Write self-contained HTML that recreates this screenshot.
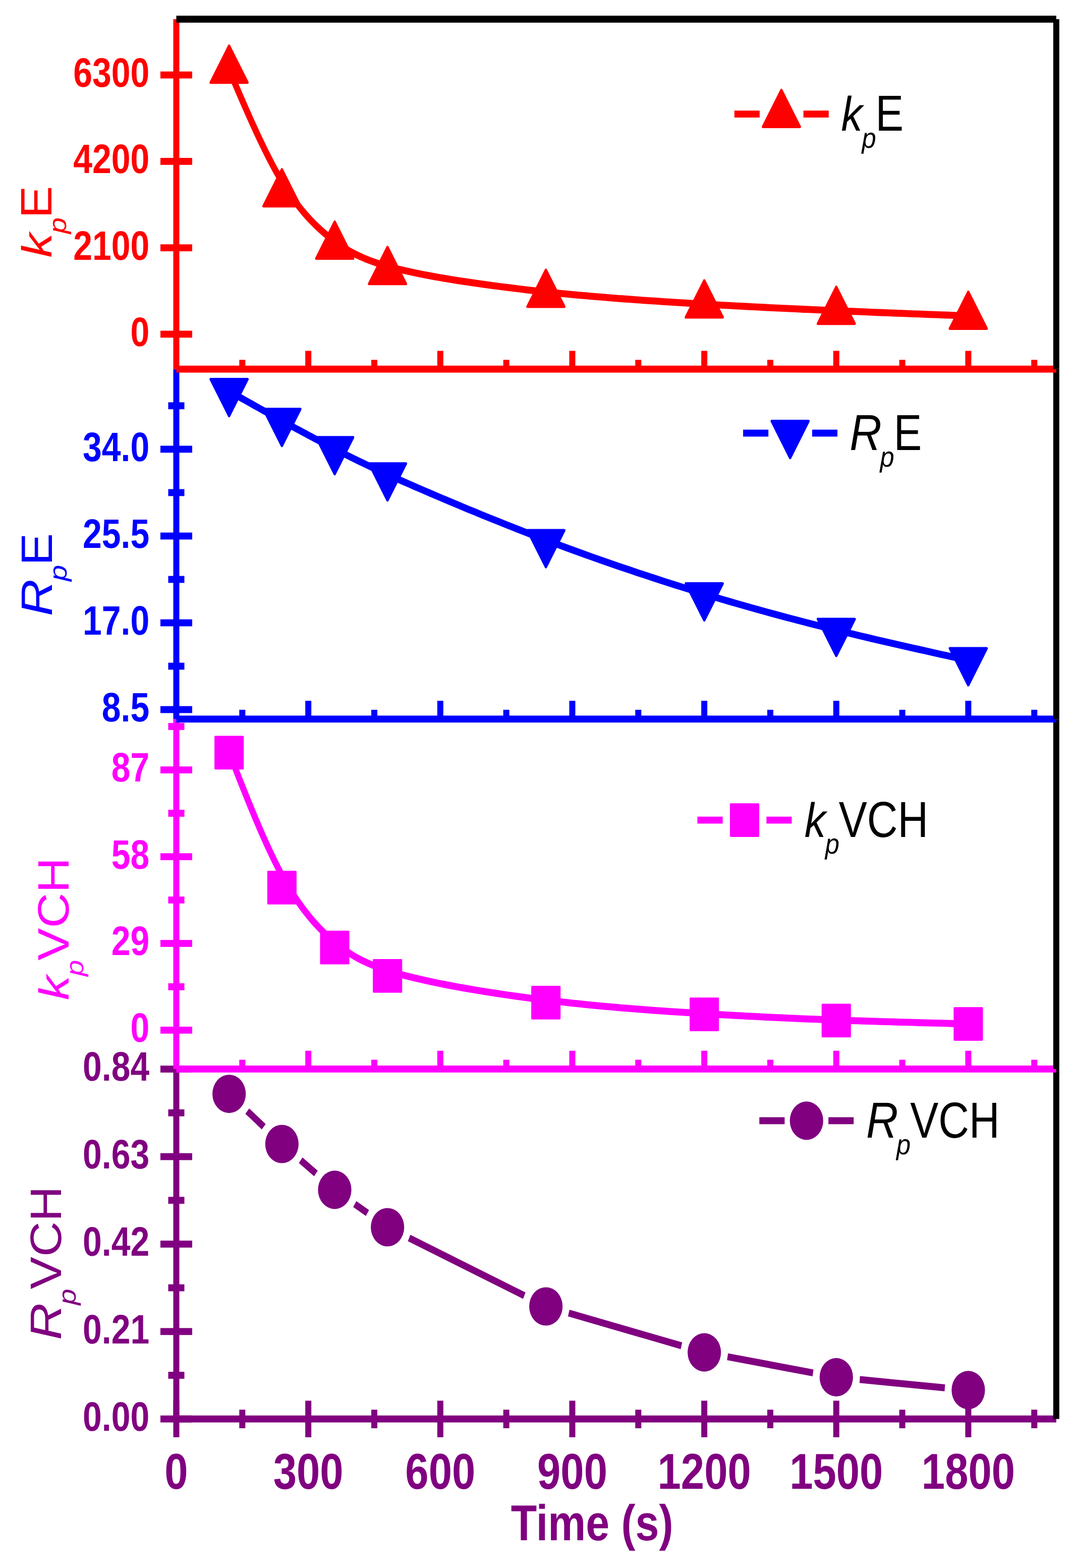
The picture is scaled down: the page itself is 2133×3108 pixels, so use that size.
<!DOCTYPE html>
<html lang="en"><head><meta charset="utf-8"><title>Time dependence of kpE, RpE, kpVCH and RpVCH</title>
<style>html,body{margin:0;padding:0;background:#fff}body{width:2133px;height:3108px}svg{display:block}text{font-family:"Liberation Sans",Arial,Helvetica,sans-serif;text-rendering:geometricPrecision}.tk{font-weight:bold;font-size:67.9px;text-anchor:end}.xt{font-weight:bold;font-size:83.3px;text-anchor:middle}.lb{font-size:83.3px}.sub{font-size:50.8px;font-style:italic}.it{font-size:83.3px;font-style:italic}</style></head><body>
<svg width="2133" height="3108" viewBox="0 0 2133 3108" role="img" aria-label="Time dependence of kpE, RpE, kpVCH and RpVCH">
<rect width="2133" height="3108" fill="#fff"/>
<g transform="scale(1,1.15)">
<g id="panel4">
<rect x="343.5" y="1842.57" width="12" height="603.17" fill="#800080"/>
<rect x="318" y="1836.7" width="63" height="12" fill="#800080"/>
<rect x="318" y="1987.57" width="63" height="12" fill="#800080"/>
<rect x="318" y="2138.35" width="63" height="12" fill="#800080"/>
<rect x="318" y="2289.04" width="63" height="12" fill="#800080"/>
<rect x="318" y="2439.74" width="63" height="12" fill="#800080"/>
<rect x="333.5" y="1912.09" width="32" height="12" fill="#800080"/>
<rect x="333.5" y="2062.87" width="32" height="12" fill="#800080"/>
<rect x="333.5" y="2213.65" width="32" height="12" fill="#800080"/>
<rect x="333.5" y="2364.43" width="32" height="12" fill="#800080"/>
<rect x="343.5" y="2414.24" width="12" height="63" fill="#800080"/>
<rect x="474.33" y="2429.74" width="12" height="32" fill="#800080"/>
<rect x="605.16" y="2414.24" width="12" height="63" fill="#800080"/>
<rect x="735.99" y="2429.74" width="12" height="32" fill="#800080"/>
<rect x="866.82" y="2414.24" width="12" height="63" fill="#800080"/>
<rect x="997.65" y="2429.74" width="12" height="32" fill="#800080"/>
<rect x="1128.48" y="2414.24" width="12" height="63" fill="#800080"/>
<rect x="1259.31" y="2429.74" width="12" height="32" fill="#800080"/>
<rect x="1390.14" y="2414.24" width="12" height="63" fill="#800080"/>
<rect x="1520.97" y="2429.74" width="12" height="32" fill="#800080"/>
<rect x="1651.8" y="2414.24" width="12" height="63" fill="#800080"/>
<rect x="1782.63" y="2429.74" width="12" height="32" fill="#800080"/>
<rect x="1913.46" y="2414.24" width="12" height="63" fill="#800080"/>
<rect x="2044.29" y="2429.74" width="12" height="32" fill="#800080"/>
<rect x="349.5" y="2439.74" width="1744.4" height="12" fill="#800080"/>
<rect x="2087.9" y="1842.57" width="12" height="603.17" fill="#000000"/>
</g>
<g id="panel3">
<rect x="343.5" y="1239.39" width="12" height="603.17" fill="#ff00ff"/>
<rect x="318" y="1321.04" width="63" height="12" fill="#ff00ff"/>
<rect x="318" y="1470.61" width="63" height="12" fill="#ff00ff"/>
<rect x="318" y="1620.09" width="63" height="12" fill="#ff00ff"/>
<rect x="318" y="1769.57" width="63" height="12" fill="#ff00ff"/>
<rect x="333.5" y="1246.17" width="32" height="12" fill="#ff00ff"/>
<rect x="333.5" y="1395.74" width="32" height="12" fill="#ff00ff"/>
<rect x="333.5" y="1545.22" width="32" height="12" fill="#ff00ff"/>
<rect x="333.5" y="1694.78" width="32" height="12" fill="#ff00ff"/>
<rect x="474.33" y="1826.57" width="12" height="16" fill="#ff00ff"/>
<rect x="605.16" y="1811.07" width="12" height="31.5" fill="#ff00ff"/>
<rect x="735.99" y="1826.57" width="12" height="16" fill="#ff00ff"/>
<rect x="866.82" y="1811.07" width="12" height="31.5" fill="#ff00ff"/>
<rect x="997.65" y="1826.57" width="12" height="16" fill="#ff00ff"/>
<rect x="1128.48" y="1811.07" width="12" height="31.5" fill="#ff00ff"/>
<rect x="1259.31" y="1826.57" width="12" height="16" fill="#ff00ff"/>
<rect x="1390.14" y="1811.07" width="12" height="31.5" fill="#ff00ff"/>
<rect x="1520.97" y="1826.57" width="12" height="16" fill="#ff00ff"/>
<rect x="1651.8" y="1811.07" width="12" height="31.5" fill="#ff00ff"/>
<rect x="1782.63" y="1826.57" width="12" height="16" fill="#ff00ff"/>
<rect x="1913.46" y="1811.07" width="12" height="31.5" fill="#ff00ff"/>
<rect x="2044.29" y="1826.57" width="12" height="16" fill="#ff00ff"/>
<rect x="349.5" y="1836.57" width="1744.4" height="12" fill="#ff00ff"/>
<rect x="2087.9" y="1239.39" width="12" height="603.17" fill="#000000"/>
</g>
<g id="panel2">
<rect x="343.5" y="636.22" width="12" height="603.17" fill="#0000ff"/>
<rect x="318" y="768.26" width="63" height="12" fill="#0000ff"/>
<rect x="318" y="917.91" width="63" height="12" fill="#0000ff"/>
<rect x="318" y="1067.48" width="63" height="12" fill="#0000ff"/>
<rect x="318" y="1217.04" width="63" height="12" fill="#0000ff"/>
<rect x="333.5" y="693.39" width="32" height="12" fill="#0000ff"/>
<rect x="333.5" y="843.04" width="32" height="12" fill="#0000ff"/>
<rect x="333.5" y="992.7" width="32" height="12" fill="#0000ff"/>
<rect x="333.5" y="1142.26" width="32" height="12" fill="#0000ff"/>
<rect x="474.33" y="1223.39" width="12" height="16" fill="#0000ff"/>
<rect x="605.16" y="1207.89" width="12" height="31.5" fill="#0000ff"/>
<rect x="735.99" y="1223.39" width="12" height="16" fill="#0000ff"/>
<rect x="866.82" y="1207.89" width="12" height="31.5" fill="#0000ff"/>
<rect x="997.65" y="1223.39" width="12" height="16" fill="#0000ff"/>
<rect x="1128.48" y="1207.89" width="12" height="31.5" fill="#0000ff"/>
<rect x="1259.31" y="1223.39" width="12" height="16" fill="#0000ff"/>
<rect x="1390.14" y="1207.89" width="12" height="31.5" fill="#0000ff"/>
<rect x="1520.97" y="1223.39" width="12" height="16" fill="#0000ff"/>
<rect x="1651.8" y="1207.89" width="12" height="31.5" fill="#0000ff"/>
<rect x="1782.63" y="1223.39" width="12" height="16" fill="#0000ff"/>
<rect x="1913.46" y="1207.89" width="12" height="31.5" fill="#0000ff"/>
<rect x="2044.29" y="1223.39" width="12" height="16" fill="#0000ff"/>
<rect x="349.5" y="1233.39" width="1744.4" height="12" fill="#0000ff"/>
<rect x="2087.9" y="636.22" width="12" height="603.17" fill="#000000"/>
</g>
<g id="panel1">
<rect x="343.5" y="33.04" width="12" height="603.17" fill="#ff0000"/>
<rect x="318" y="123.22" width="63" height="12" fill="#ff0000"/>
<rect x="318" y="272.17" width="63" height="12" fill="#ff0000"/>
<rect x="318" y="421.13" width="63" height="12" fill="#ff0000"/>
<rect x="318" y="570" width="63" height="12" fill="#ff0000"/>
<rect x="474.33" y="620.22" width="12" height="16" fill="#ff0000"/>
<rect x="605.16" y="604.72" width="12" height="31.5" fill="#ff0000"/>
<rect x="735.99" y="620.22" width="12" height="16" fill="#ff0000"/>
<rect x="866.82" y="604.72" width="12" height="31.5" fill="#ff0000"/>
<rect x="997.65" y="620.22" width="12" height="16" fill="#ff0000"/>
<rect x="1128.48" y="604.72" width="12" height="31.5" fill="#ff0000"/>
<rect x="1259.31" y="620.22" width="12" height="16" fill="#ff0000"/>
<rect x="1390.14" y="604.72" width="12" height="31.5" fill="#ff0000"/>
<rect x="1520.97" y="620.22" width="12" height="16" fill="#ff0000"/>
<rect x="1651.8" y="604.72" width="12" height="31.5" fill="#ff0000"/>
<rect x="1782.63" y="620.22" width="12" height="16" fill="#ff0000"/>
<rect x="1913.46" y="604.72" width="12" height="31.5" fill="#ff0000"/>
<rect x="2044.29" y="620.22" width="12" height="16" fill="#ff0000"/>
<rect x="349.5" y="630.22" width="1744.4" height="12" fill="#ff0000"/>
<rect x="2087.9" y="33.04" width="12" height="603.17" fill="#000000"/>
<rect x="349.5" y="27.04" width="1744.4" height="12" fill="#000000"/>
</g>
<g id="series1">
<path d="M454.16 120.39 L458.52 129.26 L462.89 138.13 L467.25 146.98 L471.61 155.8 L475.97 164.58 L480.33 173.32 L484.69 182.01 L489.05 190.63 L493.41 199.19 L497.77 207.66 L502.13 216.05 L506.5 224.34 L510.86 232.52 L515.22 240.58 L519.58 248.52 L523.94 256.33 L528.3 264 L532.66 271.51 L537.02 278.87 L541.38 286.06 L545.75 293.07 L550.11 299.89 L554.47 306.52 L558.83 312.94 L563.19 319.16 L567.55 325.16 L571.91 330.96 L576.27 336.57 L580.63 341.99 L584.99 347.22 L589.36 352.27 L593.72 357.15 L598.08 361.85 L602.44 366.4 L606.8 370.78 L611.16 375.02 L615.52 379.1 L619.88 383.05 L624.24 386.85 L628.6 390.53 L632.96 394.09 L637.33 397.52 L641.69 400.84 L646.05 404.05 L650.41 407.16 L654.77 410.17 L659.13 413.09 L663.49 415.92 L667.86 418.67 L672.23 421.34 L676.64 423.94 L681.1 426.47 L685.61 428.93 L690.2 431.32 L694.88 433.65 L699.67 435.92 L704.58 438.13 L709.63 440.29 L714.82 442.4 L720.19 444.46 L725.73 446.48 L731.47 448.45 L737.42 450.39 L743.61 452.29 L750.03 454.16 L756.71 456 L763.66 457.82 L770.9 459.61 L778.45 461.39 L786.31 463.14 L794.5 464.88 L803.04 466.62 L811.95 468.34 L821.19 470.05 L830.78 471.76 L840.68 473.45 L850.88 475.13 L861.37 476.8 L872.14 478.45 L883.16 480.09 L894.42 481.71 L905.91 483.31 L917.61 484.89 L929.51 486.45 L941.59 487.99 L953.84 489.51 L966.24 491 L978.78 492.46 L991.43 493.9 L1004.2 495.31 L1017.05 496.7 L1029.98 498.05 L1042.97 499.37 L1056 500.66 L1069.07 501.91 L1082.15 503.13 L1095.23 504.31 L1108.31 505.46 L1121.38 506.58 L1134.44 507.66 L1147.48 508.7 L1160.51 509.72 L1173.51 510.71 L1186.49 511.66 L1199.44 512.59 L1212.35 513.49 L1225.22 514.37 L1238.05 515.21 L1250.84 516.04 L1263.58 516.84 L1276.26 517.62 L1288.89 518.37 L1301.46 519.11 L1313.96 519.83 L1326.4 520.52 L1338.76 521.2 L1351.05 521.86 L1363.26 522.51 L1375.38 523.14 L1387.42 523.76 L1399.37 524.37 L1411.23 524.96 L1423 525.54 L1434.7 526.11 L1446.32 526.66 L1457.88 527.21 L1469.36 527.75 L1480.78 528.27 L1492.13 528.78 L1503.43 529.29 L1514.68 529.79 L1525.88 530.27 L1537.03 530.75 L1548.14 531.22 L1559.22 531.68 L1570.26 532.14 L1581.27 532.59 L1592.25 533.03 L1603.21 533.46 L1614.15 533.89 L1625.08 534.31 L1635.99 534.73 L1646.9 535.14 L1657.8 535.55 L1668.7 535.95 L1679.61 536.35 L1690.51 536.75 L1701.41 537.14 L1712.31 537.53 L1723.22 537.92 L1734.12 538.3 L1745.02 538.68 L1755.92 539.05 L1766.83 539.43 L1777.73 539.8 L1788.63 540.17 L1799.53 540.53 L1810.44 540.9 L1821.34 541.26 L1832.24 541.62 L1843.14 541.98 L1854.05 542.34 L1864.95 542.7 L1875.85 543.06 L1886.75 543.41 L1897.66 543.77 L1908.56 544.12 L1919.46 544.48" fill="none" stroke="#ff0000" stroke-width="12" stroke-linejoin="round"/>
<polygon points="454.16,78.99 490.71,142.29 417.61,142.29" fill="#ff0000" stroke="#ff0000" stroke-width="4.6" stroke-linejoin="round"/>
<polygon points="558.83,291.99 595.38,355.29 522.28,355.29" fill="#ff0000" stroke="#ff0000" stroke-width="4.6" stroke-linejoin="round"/>
<polygon points="663.49,382.29 700.04,445.6 626.94,445.6" fill="#ff0000" stroke="#ff0000" stroke-width="4.6" stroke-linejoin="round"/>
<polygon points="768.16,425.94 804.71,489.25 731.61,489.25" fill="#ff0000" stroke="#ff0000" stroke-width="4.6" stroke-linejoin="round"/>
<polygon points="1082.15,465.2 1118.7,528.51 1045.6,528.51" fill="#ff0000" stroke="#ff0000" stroke-width="4.6" stroke-linejoin="round"/>
<polygon points="1396.14,483.6 1432.69,546.9 1359.59,546.9" fill="#ff0000" stroke="#ff0000" stroke-width="4.6" stroke-linejoin="round"/>
<polygon points="1657.8,494.55 1694.35,557.86 1621.25,557.86" fill="#ff0000" stroke="#ff0000" stroke-width="4.6" stroke-linejoin="round"/>
<polygon points="1919.46,503.07 1956.01,566.38 1882.91,566.38" fill="#ff0000" stroke="#ff0000" stroke-width="4.6" stroke-linejoin="round"/>
</g>
<g id="series2">
<path d="M454.16 674.26 L458.52 676.41 L462.89 678.55 L467.25 680.69 L471.61 682.84 L475.97 684.98 L480.33 687.12 L484.69 689.26 L489.05 691.4 L493.41 693.54 L497.77 695.68 L502.13 697.81 L506.5 699.94 L510.86 702.07 L515.22 704.2 L519.58 706.32 L523.94 708.44 L528.3 710.56 L532.66 712.67 L537.02 714.78 L541.38 716.89 L545.75 718.99 L550.11 721.09 L554.47 723.19 L558.83 725.28 L563.19 727.36 L567.55 729.44 L571.91 731.51 L576.27 733.58 L580.63 735.65 L584.99 737.71 L589.36 739.76 L593.72 741.81 L598.08 743.86 L602.44 745.89 L606.8 747.93 L611.16 749.96 L615.52 751.98 L619.88 754 L624.24 756.01 L628.6 758.01 L632.96 760.01 L637.33 762.01 L641.69 764 L646.05 765.98 L650.41 767.96 L654.77 769.93 L659.13 771.9 L663.49 773.86 L667.86 775.81 L672.23 777.76 L676.64 779.72 L681.1 781.69 L685.61 783.67 L690.2 785.68 L694.88 787.71 L699.67 789.77 L704.58 791.86 L709.63 794 L714.82 796.19 L720.19 798.43 L725.73 800.72 L731.47 803.08 L737.42 805.51 L743.61 808.01 L750.03 810.59 L756.71 813.25 L763.66 816 L770.9 818.85 L778.45 821.8 L786.31 824.85 L794.5 828.02 L803.04 831.3 L811.95 834.7 L821.19 838.21 L830.78 841.83 L840.68 845.55 L850.88 849.37 L861.37 853.28 L872.14 857.26 L883.16 861.32 L894.42 865.45 L905.91 869.64 L917.61 873.88 L929.51 878.16 L941.59 882.49 L953.84 886.86 L966.24 891.25 L978.78 895.66 L991.43 900.08 L1004.2 904.51 L1017.05 908.94 L1029.98 913.36 L1042.97 917.77 L1056 922.16 L1069.07 926.52 L1082.15 930.85 L1095.23 935.14 L1108.31 939.38 L1121.38 943.59 L1134.44 947.75 L1147.48 951.87 L1160.51 955.95 L1173.51 959.99 L1186.49 963.98 L1199.44 967.92 L1212.35 971.82 L1225.22 975.68 L1238.05 979.49 L1250.84 983.25 L1263.58 986.97 L1276.26 990.63 L1288.89 994.25 L1301.46 997.82 L1313.96 1001.35 L1326.4 1004.82 L1338.76 1008.24 L1351.05 1011.61 L1363.26 1014.93 L1375.38 1018.2 L1387.42 1021.41 L1399.37 1024.58 L1411.23 1027.69 L1423 1030.75 L1434.7 1033.76 L1446.32 1036.73 L1457.88 1039.65 L1469.36 1042.53 L1480.78 1045.36 L1492.13 1048.15 L1503.43 1050.9 L1514.68 1053.62 L1525.88 1056.29 L1537.03 1058.93 L1548.14 1061.54 L1559.22 1064.11 L1570.26 1066.65 L1581.27 1069.16 L1592.25 1071.64 L1603.21 1074.1 L1614.15 1076.53 L1625.08 1078.93 L1635.99 1081.31 L1646.9 1083.67 L1657.8 1086.01 L1668.7 1088.33 L1679.61 1090.63 L1690.51 1092.91 L1701.41 1095.18 L1712.31 1097.43 L1723.22 1099.67 L1734.12 1101.89 L1745.02 1104.1 L1755.92 1106.3 L1766.83 1108.48 L1777.73 1110.65 L1788.63 1112.82 L1799.53 1114.97 L1810.44 1117.11 L1821.34 1119.25 L1832.24 1121.38 L1843.14 1123.51 L1854.05 1125.62 L1864.95 1127.74 L1875.85 1129.85 L1886.75 1131.95 L1897.66 1134.06 L1908.56 1136.16 L1919.46 1138.26" fill="none" stroke="#0000ff" stroke-width="12" stroke-linejoin="round"/>
<polygon points="454.16,716.92 490.71,653.61 417.61,653.61" fill="#0000ff" stroke="#0000ff" stroke-width="4.6" stroke-linejoin="round"/>
<polygon points="558.83,768.39 595.38,705.09 522.28,705.09" fill="#0000ff" stroke="#0000ff" stroke-width="4.6" stroke-linejoin="round"/>
<polygon points="663.49,817.09 700.04,753.78 626.94,753.78" fill="#0000ff" stroke="#0000ff" stroke-width="4.6" stroke-linejoin="round"/>
<polygon points="768.16,862.31 804.71,799 731.61,799" fill="#0000ff" stroke="#0000ff" stroke-width="4.6" stroke-linejoin="round"/>
<polygon points="1082.15,977.39 1118.7,914.09 1045.6,914.09" fill="#0000ff" stroke="#0000ff" stroke-width="4.6" stroke-linejoin="round"/>
<polygon points="1396.14,1069.13 1432.69,1005.83 1359.59,1005.83" fill="#0000ff" stroke="#0000ff" stroke-width="4.6" stroke-linejoin="round"/>
<polygon points="1657.8,1130.48 1694.35,1067.17 1621.25,1067.17" fill="#0000ff" stroke="#0000ff" stroke-width="4.6" stroke-linejoin="round"/>
<polygon points="1919.46,1180.92 1956.01,1117.61 1882.91,1117.61" fill="#0000ff" stroke="#0000ff" stroke-width="4.6" stroke-linejoin="round"/>
</g>
<g id="series3">
<path d="M454.16 1297.22 L458.52 1306.91 L462.89 1316.6 L467.25 1326.26 L471.61 1335.9 L475.97 1345.5 L480.33 1355.05 L484.69 1364.55 L489.05 1373.98 L493.41 1383.34 L497.77 1392.61 L502.13 1401.79 L506.5 1410.87 L510.86 1419.83 L515.22 1428.67 L519.58 1437.39 L523.94 1445.96 L528.3 1454.38 L532.66 1462.64 L537.02 1470.73 L541.38 1478.65 L545.75 1486.37 L550.11 1493.91 L554.47 1501.23 L558.83 1508.34 L563.19 1515.23 L567.55 1521.9 L571.91 1528.35 L576.27 1534.6 L580.63 1540.64 L584.99 1546.49 L589.36 1552.14 L593.72 1557.61 L598.08 1562.89 L602.44 1568 L606.8 1572.94 L611.16 1577.71 L615.52 1582.33 L619.88 1586.79 L624.24 1591.1 L628.6 1595.27 L632.96 1599.3 L637.33 1603.19 L641.69 1606.96 L646.05 1610.61 L650.41 1614.15 L654.77 1617.57 L659.13 1620.88 L663.49 1624.1 L667.86 1627.22 L672.23 1630.25 L676.64 1633.2 L681.1 1636.06 L685.61 1638.84 L690.2 1641.55 L694.88 1644.18 L699.67 1646.74 L704.58 1649.25 L709.63 1651.69 L714.82 1654.07 L720.19 1656.4 L725.73 1658.68 L731.47 1660.91 L737.42 1663.1 L743.61 1665.26 L750.03 1667.38 L756.71 1669.47 L763.66 1671.53 L770.9 1673.56 L778.45 1675.58 L786.31 1677.59 L794.5 1679.58 L803.04 1681.56 L811.95 1683.53 L821.19 1685.5 L830.78 1687.47 L840.68 1689.42 L850.88 1691.36 L861.37 1693.29 L872.14 1695.2 L883.16 1697.1 L894.42 1698.98 L905.91 1700.84 L917.61 1702.67 L929.51 1704.49 L941.59 1706.28 L953.84 1708.04 L966.24 1709.78 L978.78 1711.48 L991.43 1713.15 L1004.2 1714.79 L1017.05 1716.4 L1029.98 1717.96 L1042.97 1719.49 L1056 1720.98 L1069.07 1722.43 L1082.15 1723.83 L1095.23 1725.19 L1108.31 1726.51 L1121.38 1727.78 L1134.44 1729.01 L1147.48 1730.2 L1160.51 1731.35 L1173.51 1732.46 L1186.49 1733.54 L1199.44 1734.58 L1212.35 1735.59 L1225.22 1736.56 L1238.05 1737.5 L1250.84 1738.41 L1263.58 1739.29 L1276.26 1740.14 L1288.89 1740.97 L1301.46 1741.76 L1313.96 1742.54 L1326.4 1743.29 L1338.76 1744.01 L1351.05 1744.72 L1363.26 1745.41 L1375.38 1746.07 L1387.42 1746.72 L1399.37 1747.36 L1411.23 1747.97 L1423 1748.58 L1434.7 1749.16 L1446.32 1749.73 L1457.88 1750.29 L1469.36 1750.83 L1480.78 1751.36 L1492.13 1751.87 L1503.43 1752.37 L1514.68 1752.86 L1525.88 1753.33 L1537.03 1753.8 L1548.14 1754.25 L1559.22 1754.69 L1570.26 1755.11 L1581.27 1755.53 L1592.25 1755.94 L1603.21 1756.33 L1614.15 1756.72 L1625.08 1757.09 L1635.99 1757.46 L1646.9 1757.82 L1657.8 1758.17 L1668.7 1758.51 L1679.61 1758.84 L1690.51 1759.17 L1701.41 1759.48 L1712.31 1759.8 L1723.22 1760.1 L1734.12 1760.4 L1745.02 1760.69 L1755.92 1760.98 L1766.83 1761.26 L1777.73 1761.54 L1788.63 1761.81 L1799.53 1762.08 L1810.44 1762.35 L1821.34 1762.61 L1832.24 1762.87 L1843.14 1763.13 L1854.05 1763.38 L1864.95 1763.63 L1875.85 1763.88 L1886.75 1764.13 L1897.66 1764.38 L1908.56 1764.62 L1919.46 1764.87" fill="none" stroke="#ff00ff" stroke-width="12" stroke-linejoin="round"/>
<rect x="426.61" y="1269.67" width="55.1" height="55.1" fill="#ff00ff" stroke="#ff00ff" stroke-width="3" stroke-linejoin="round"/>
<rect x="531.28" y="1502.36" width="55.1" height="55.1" fill="#ff00ff" stroke="#ff00ff" stroke-width="3" stroke-linejoin="round"/>
<rect x="635.94" y="1605.62" width="55.1" height="55.1" fill="#ff00ff" stroke="#ff00ff" stroke-width="3" stroke-linejoin="round"/>
<rect x="740.61" y="1654.45" width="55.1" height="55.1" fill="#ff00ff" stroke="#ff00ff" stroke-width="3" stroke-linejoin="round"/>
<rect x="1054.6" y="1700.62" width="55.1" height="55.1" fill="#ff00ff" stroke="#ff00ff" stroke-width="3" stroke-linejoin="round"/>
<rect x="1368.59" y="1720.75" width="55.1" height="55.1" fill="#ff00ff" stroke="#ff00ff" stroke-width="3" stroke-linejoin="round"/>
<rect x="1630.25" y="1731.41" width="55.1" height="55.1" fill="#ff00ff" stroke="#ff00ff" stroke-width="3" stroke-linejoin="round"/>
<rect x="1891.91" y="1737.32" width="55.1" height="55.1" fill="#ff00ff" stroke="#ff00ff" stroke-width="3" stroke-linejoin="round"/>
</g>
<g id="series4">
<line x1="490.19" y1="1915.11" x2="522.8" y2="1942.02" stroke="#800080" stroke-width="12"/>
<line x1="596.09" y1="1999.88" x2="626.23" y2="2022.64" stroke="#800080" stroke-width="12"/>
<line x1="703.26" y1="2075.27" x2="728.39" y2="2090.73" stroke="#800080" stroke-width="12"/>
<line x1="810.98" y1="2133.84" x2="1039.32" y2="2233.12" stroke="#800080" stroke-width="12"/>
<line x1="1127.43" y1="2263.16" x2="1350.86" y2="2319.53" stroke="#800080" stroke-width="12"/>
<line x1="1442.23" y1="2338.51" x2="1611.71" y2="2366.28" stroke="#800080" stroke-width="12"/>
<line x1="1704.33" y1="2377.77" x2="1872.93" y2="2392.06" stroke="#800080" stroke-width="12"/>
<circle cx="454.16" cy="1885.39" r="33.1" fill="#800080"/>
<circle cx="558.83" cy="1971.74" r="33.1" fill="#800080"/>
<circle cx="663.49" cy="2050.78" r="33.1" fill="#800080"/>
<circle cx="768.16" cy="2115.22" r="33.1" fill="#800080"/>
<circle cx="1082.15" cy="2251.74" r="33.1" fill="#800080"/>
<circle cx="1396.14" cy="2330.96" r="33.1" fill="#800080"/>
<circle cx="1657.8" cy="2373.83" r="33.1" fill="#800080"/>
<circle cx="1919.46" cy="2396" r="33.1" fill="#800080"/>
</g>
<text class="tk" transform="translate(296.2,149.57) scale(1,1.044)" fill="#ff0000">6300</text>
<text class="tk" transform="translate(296.2,298.52) scale(1,1.044)" fill="#ff0000">4200</text>
<text class="tk" transform="translate(296.2,447.48) scale(1,1.044)" fill="#ff0000">2100</text>
<text class="tk" transform="translate(296.2,596.35) scale(1,1.044)" fill="#ff0000">0</text>
<text class="tk" transform="translate(296.2,794.61) scale(1,1.044)" fill="#0000ff">34.0</text>
<text class="tk" transform="translate(296.2,944.26) scale(1,1.044)" fill="#0000ff">25.5</text>
<text class="tk" transform="translate(296.2,1093.83) scale(1,1.044)" fill="#0000ff">17.0</text>
<text class="tk" transform="translate(296.2,1243.39) scale(1,1.044)" fill="#0000ff">8.5</text>
<text class="tk" transform="translate(296.2,1347.39) scale(1,1.044)" fill="#ff00ff">87</text>
<text class="tk" transform="translate(296.2,1496.96) scale(1,1.044)" fill="#ff00ff">58</text>
<text class="tk" transform="translate(296.2,1646.43) scale(1,1.044)" fill="#ff00ff">29</text>
<text class="tk" transform="translate(296.2,1795.91) scale(1,1.044)" fill="#ff00ff">0</text>
<text class="tk" transform="translate(296.2,1863.04) scale(1,1.044)" fill="#800080">0.84</text>
<text class="tk" transform="translate(296.2,2013.91) scale(1,1.044)" fill="#800080">0.63</text>
<text class="tk" transform="translate(296.2,2164.7) scale(1,1.044)" fill="#800080">0.42</text>
<text class="tk" transform="translate(296.2,2315.39) scale(1,1.044)" fill="#800080">0.21</text>
<text class="tk" transform="translate(296.2,2466.09) scale(1,1.044)" fill="#800080">0.00</text>
<text class="xt" transform="translate(349.5,2565.91) scale(1,1.044)" fill="#800080">0</text>
<text class="xt" transform="translate(611.16,2565.91) scale(1,1.044)" fill="#800080">300</text>
<text class="xt" transform="translate(872.82,2565.91) scale(1,1.044)" fill="#800080">600</text>
<text class="xt" transform="translate(1134.48,2565.91) scale(1,1.044)" fill="#800080">900</text>
<text class="xt" transform="translate(1396.14,2565.91) scale(1,1.044)" fill="#800080">1200</text>
<text class="xt" transform="translate(1657.8,2565.91) scale(1,1.044)" fill="#800080">1500</text>
<text class="xt" transform="translate(1919.46,2565.91) scale(1,1.044)" fill="#800080">1800</text>
<text class="xt" transform="translate(1173.7,2654.87) scale(1,1.03)" fill="#800080" style="font-size:84.3px">Time (s)</text>
<rect x="1455.8" y="190.61" width="50.1" height="12" fill="#ff0000"/>
<rect x="1592.7" y="190.61" width="50.1" height="12" fill="#ff0000"/>
<polygon points="1549,155.2 1585.55,218.51 1512.45,218.51" fill="#ff0000" stroke="#ff0000" stroke-width="4.6" stroke-linejoin="round"/>
<g transform="translate(1668.8,225.57)" fill="#000000"><text class="it" transform="translate(-1.4,0) scale(1.015,1.0)">k</text><text class="sub" transform="translate(39.77,29) scale(1,0.96)">p</text><text class="lb" transform="translate(66.63,0) scale(1.0,1.048)">E</text></g>
<rect x="1473.1" y="740.52" width="50.1" height="12" fill="#0000ff"/>
<rect x="1610" y="740.52" width="50.1" height="12" fill="#0000ff"/>
<polygon points="1566.3,789.18 1602.85,725.87 1529.75,725.87" fill="#0000ff" stroke="#0000ff" stroke-width="4.6" stroke-linejoin="round"/>
<g transform="translate(1687.05,775.22)" fill="#000000"><text class="it" transform="translate(-2.71,0) scale(1.056,1.048)">R</text><text class="sub" transform="translate(57.47,29) scale(1,0.96)">p</text><text class="lb" transform="translate(84.63,0) scale(1.0,1.048)">E</text></g>
<rect x="1382.5" y="1407.57" width="50.1" height="12" fill="#ff00ff"/>
<rect x="1519.4" y="1407.57" width="50.1" height="12" fill="#ff00ff"/>
<rect x="1448.45" y="1386.02" width="55.1" height="55.1" fill="#ff00ff" stroke="#ff00ff" stroke-width="3" stroke-linejoin="round"/>
<g transform="translate(1596.1,1442.52)" fill="#000000"><text class="it" transform="translate(-1.4,0) scale(1.015,1.0)">k</text><text class="sub" transform="translate(39.77,29) scale(1,0.96)">p</text><text class="lb" transform="translate(66.63,0) scale(1.01,1.048)">VCH</text></g>
<rect x="1505.3" y="1925.65" width="50.1" height="12" fill="#800080"/>
<rect x="1642.2" y="1925.65" width="50.1" height="12" fill="#800080"/>
<circle cx="1598.8" cy="1931.65" r="33.1" fill="#800080"/>
<g transform="translate(1719.6,1960.78)" fill="#000000"><text class="it" transform="translate(-2.71,0) scale(1.056,1.048)">R</text><text class="sub" transform="translate(57.47,29) scale(1,0.96)">p</text><text class="lb" transform="translate(84.63,0) scale(1.01,1.048)">VCH</text></g>
<g transform="translate(102.3,442.61) rotate(-90)" fill="#ff0000"><text class="it" transform="translate(-1.4,0) scale(1.015,1.0)">k</text><text class="sub" transform="translate(39.77,29) scale(1,0.96)">p</text><text class="lb" transform="translate(66.63,0) scale(1.0,1.048)">E</text></g>
<g transform="translate(103.1,1059.22) rotate(-90)" fill="#0000ff"><text class="it" transform="translate(-2.71,0) scale(1.056,1.048)">R</text><text class="sub" transform="translate(57.47,29) scale(1,0.96)">p</text><text class="lb" transform="translate(84.63,0) scale(1.0,1.048)">E</text></g>
<g transform="translate(136.1,1722.35) rotate(-90)" fill="#ff00ff"><text class="it" transform="translate(-1.4,0) scale(1.015,1.0)">k</text><text class="sub" transform="translate(39.77,29) scale(1,0.96)">p</text><text class="lb" transform="translate(66.63,0) scale(1.01,1.048)">VCH</text></g>
<g transform="translate(121.1,2306.87) rotate(-90)" fill="#800080"><text class="it" transform="translate(-2.71,0) scale(1.056,1.048)">R</text><text class="sub" transform="translate(57.47,29) scale(1,0.96)">p</text><text class="lb" transform="translate(84.63,0) scale(1.01,1.048)">VCH</text></g>
</g></svg></body></html>
